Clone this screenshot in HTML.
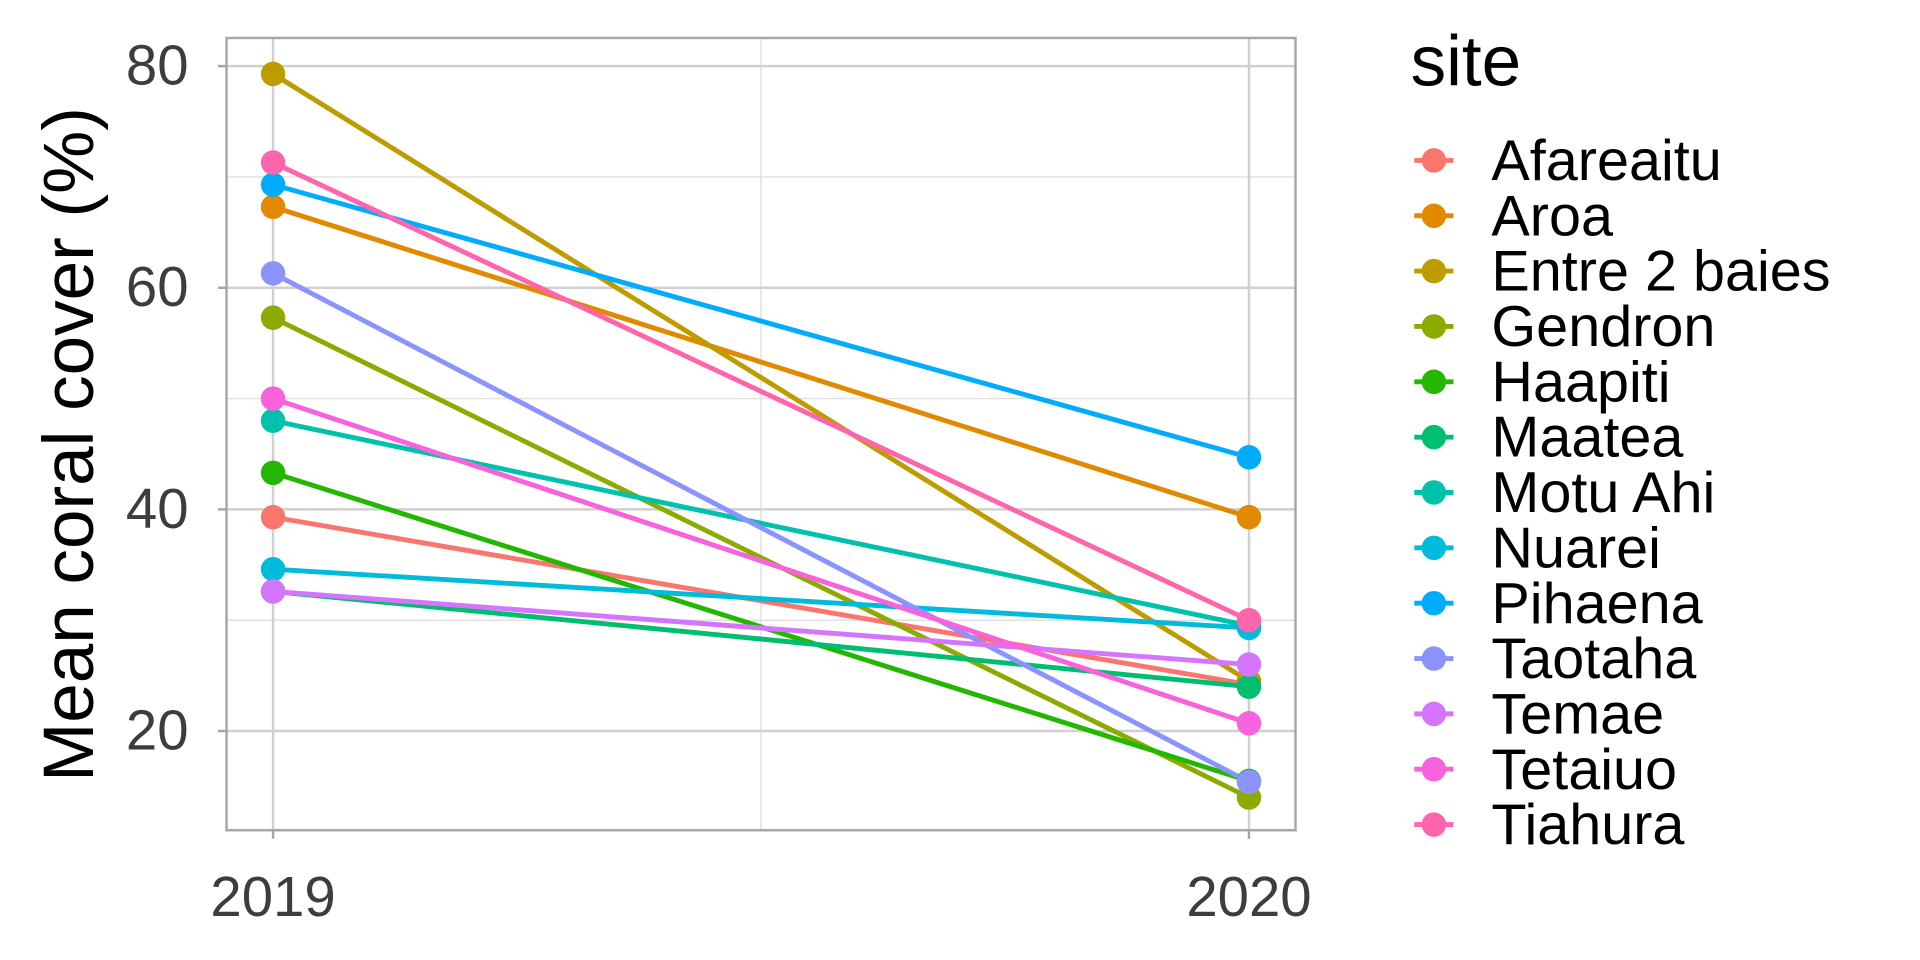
<!DOCTYPE html>
<html><head><meta charset="utf-8"><style>
html,body{margin:0;padding:0;background:#fff;}
svg{display:block;font-family:"Liberation Sans",sans-serif;}
</style></head><body>
<svg id="chart" width="1920" height="960" viewBox="0 0 1568 784" xmlns="http://www.w3.org/2000/svg">
<rect x="0" y="0" width="1568" height="784" fill="#fff"/>
<g id="grid"></g>
<g id="lines"></g>
<g id="points"></g>
<rect x="185" y="31" width="873" height="647" fill="none" stroke="#a6a6a6" stroke-width="2"/>
<g id="axes"></g>
<text x="0" y="0" transform="translate(76,363) rotate(-90)" text-anchor="middle" font-size="58" fill="#000">Mean coral cover (%)</text>
<text x="1152" y="70" font-size="58" fill="#000">site</text>
<g id="legend"></g>
</svg>
<script>
const sites = ["Afareaitu","Aroa","Entre 2 baies","Gendron","Haapiti","Maatea","Motu Ahi","Nuarei","Pihaena","Taotaha","Temae","Tetaiuo","Tiahura"];
const years = ["2019","2020"];
const cover2019 = [39.3,67.3,79.3,57.3,43.3,32.6,48.0,34.6,69.3,61.3,32.6,50.0,71.3];
const cover2020 = [24.2,39.3,24.5,14.0,15.5,24.0,29.5,29.3,44.7,15.4,26.0,20.7,30.0];
const yTicks = [20,40,60,80];
const yMinor = [30,50,70];
const colors = ["#F8766D","#E18A00","#BE9C00","#8CAB00","#24B700","#00BE70","#00C1AB","#00BBDA","#00ACFC","#8B93FF","#D575FE","#F962DD","#FF65AC"];
const NS="http://www.w3.org/2000/svg";
const xs = i => 223 + i*(1020-223);
const ys = v => 597 - (v-20)*(597-54)/60;
function mk(tag, attrs, parent){const e=document.createElementNS(NS,tag);for(const k in attrs)e.setAttribute(k,attrs[k]);parent.appendChild(e);return e;}
const grid=document.getElementById('grid'), lines=document.getElementById('lines'), pts=document.getElementById('points'), axes=document.getElementById('axes'), leg=document.getElementById('legend');
yMinor.forEach(v=>{const l=mk('line',{x1:185,x2:1058,y1:ys(v),y2:ys(v),stroke:'#e0e0e0','stroke-width':1.2},grid);

});
mk('line',{x1:(xs(0)+xs(1))/2,x2:(xs(0)+xs(1))/2,y1:31,y2:678,stroke:'#e0e0e0','stroke-width':1.2},grid);
yTicks.forEach(v=>{const l=mk('line',{x1:185,x2:1058,y1:ys(v),y2:ys(v),stroke:'#d0d0d0','stroke-width':2},grid);


const t=mk('line',{x1:178,x2:185,y1:ys(v),y2:ys(v),stroke:'#a6a6a6','stroke-width':2},axes);


const tx=mk('text',{x:154,y:ys(v)+15,'text-anchor':'end','font-size':46,fill:'#3d3d3d'},axes);tx.textContent=v;

});
years.forEach((y,i)=>{const l=mk('line',{x1:xs(i),x2:xs(i),y1:31,y2:678,stroke:'#d0d0d0','stroke-width':2},grid);


const t=mk('line',{x1:xs(i),x2:xs(i),y1:678,y2:685,stroke:'#a6a6a6','stroke-width':2},axes);


const tx=mk('text',{x:xs(i),y:748,'text-anchor':'middle','font-size':46,fill:'#3d3d3d'},axes);tx.textContent=y;

});
sites.forEach((s,i)=>{
const l=mk('line',{x1:xs(0),y1:ys(cover2019[i]),x2:xs(1),y2:ys(cover2020[i]),stroke:colors[i],'stroke-width':4},lines);


[cover2019[i],cover2020[i]].forEach((v,j)=>{const c=mk('circle',{cx:xs(j),cy:ys(v),r:10,fill:colors[i]},pts);

});
const yy=131+i*45.2;
const g=mk('g',{},leg);


mk('line',{x1:1155,x2:1187,y1:yy,y2:yy,stroke:colors[i],'stroke-width':4},g);
mk('circle',{cx:1171,cy:yy,r:10,fill:colors[i]},g);
const tx=mk('text',{x:1218,y:yy+16,'font-size':47,fill:'#000'},g);tx.textContent=s;
});
</script>
</body></html>
